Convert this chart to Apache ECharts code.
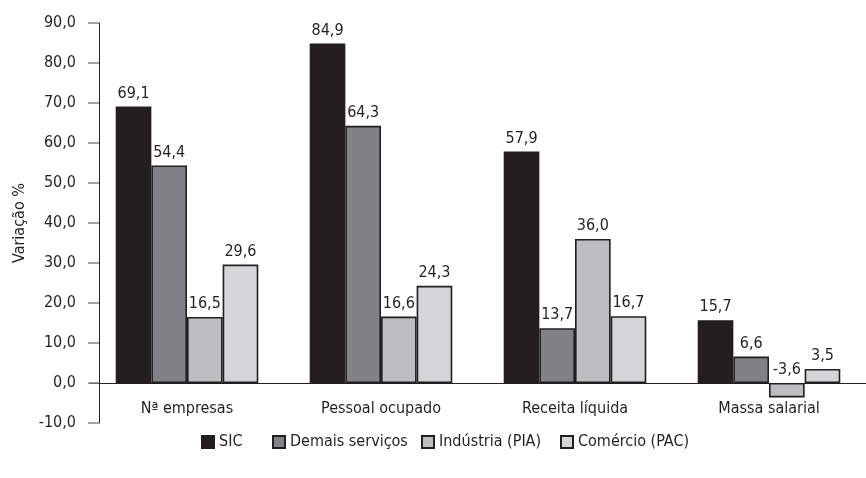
<!DOCTYPE html>
<html><head><meta charset="utf-8">
<script src="https://cdn.jsdelivr.net/npm/echarts@6/dist/echarts.min.js"></script>
<style>html,body{margin:0;padding:0;background:#fff}#c{width:866px;height:478px}</style>
</head><body><div id="c"></div>
<script>
var categories = ['Nª empresas', 'Pessoal ocupado', 'Receita líquida', 'Massa salarial'];
var seriesNames = ['SIC', 'Demais serviços', 'Indústria (PIA)', 'Comércio (PAC)'];
var sic = [69.1, 84.9, 57.9, 15.7];
var demais = [54.4, 64.3, 13.7, 6.6];
var pia = [16.5, 16.6, 36.0, -3.6];
var pac = [29.6, 24.3, 16.7, 3.5];
var colors = ['#231f20', '#808285', '#bcbec0', '#d4d5d6'];
var fmt = function (v) { return v.toFixed(1).replace('.', ','); };
var FONT = '"DejaVu Sans Condensed", sans-serif';
var FS = 16;
var legendLeft = [201, 272, 421, 560];
var values = [sic, demais, pia, pac];
var series = values.map(function (d, i) {
  return {
    name: seriesNames[i], type: 'bar', data: d, barGap: '0%', barCategoryGap: '26.5%',
    itemStyle: { color: colors[i], borderColor: '#231f20', borderWidth: 1.6 },
    label: { show: true, position: 'top', distance: 5, color: '#231f20', fontFamily: FONT, fontSize: FS,
      formatter: function (p) { return fmt(p.value); } }
  };
});
var legends = seriesNames.map(function (n, i) {
  return {
    top: 434, left: legendLeft[i], itemWidth: 12, itemHeight: 12, padding: 0,
    icon: 'rect', textStyle: { fontFamily: FONT, fontSize: FS, color: '#231f20' },
    data: [n]
  };
});
var chart = echarts.init(document.getElementById('c'));
chart.setOption({
  animation: false,
  textStyle: { fontFamily: FONT },
  grid: { left: 90, top: 23, width: 784, height: 400, containLabel: false },
  legend: legends,
  xAxis: {
    type: 'category', data: categories,
    axisLine: { onZero: true, lineStyle: { color: '#231f20', width: 1 } },
    axisTick: { show: false },
    axisLabel: { margin: -22, fontFamily: FONT, fontSize: FS, color: '#231f20' }
  },
  yAxis: {
    type: 'value', min: -10, max: 90, interval: 10, offset: -9,
    name: 'Variação %', nameLocation: 'middle', nameGap: 66, nameRotate: 90,
    nameTextStyle: { fontFamily: FONT, fontSize: FS, color: '#231f20' },
    axisLine: { show: true, lineStyle: { color: '#231f20', width: 1 } },
    axisTick: { show: true, length: 11, lineStyle: { color: '#808285', width: 1.5 } },
    axisLabel: { margin: 23, fontFamily: FONT, fontSize: FS, color: '#231f20', formatter: fmt },
    splitLine: { show: false }
  },
  series: series
});
</script></body></html>
